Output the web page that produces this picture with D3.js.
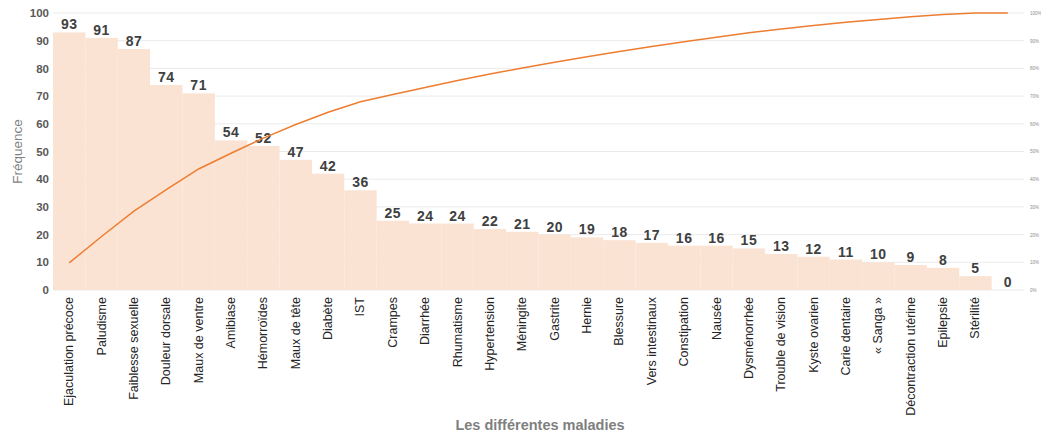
<!DOCTYPE html>
<html>
<head>
<meta charset="utf-8">
<script src="https://cdn.jsdelivr.net/npm/d3@7"></script>
<style>
  html, body { margin: 0; padding: 0; background: #fff; }
  svg { display: block; font-family: "Liberation Sans", Arial, sans-serif; }
</style>
</head>
<body>
<svg id="chart" width="1041" height="436"></svg>
<script>
// Diseases (the last bar, value 0, has no label on the axis)
const categories = [
  "Ejaculation précoce", "Paludisme", "Faiblesse sexuelle", "Douleur dorsale",
  "Maux de ventre", "Amibiase", "Hémorroïdes", "Maux de tête", "Diabète", "IST",
  "Crampes", "Diarrhée", "Rhumatisme", "Hypertension", "Méningite", "Gastrite",
  "Hernie", "Blessure", "Vers intestinaux", "Constipation", "Nausée",
  "Dysménorrhée", "Trouble de vision", "Kyste ovarien", "Carie dentaire",
  "« Sanga »", "Décontraction utérine", "Epilepsie", "Stérilité", ""
];
const frequencies = [93, 91, 87, 74, 71, 54, 52, 47, 42, 36, 25, 24, 24, 22, 21,
  20, 19, 18, 17, 16, 16, 15, 13, 12, 11, 10, 9, 8, 5, 0];
const leftTicks = [0, 10, 20, 30, 40, 50, 60, 70, 80, 90, 100];
const rightTicks = [0, 10, 20, 30, 40, 50, 60, 70, 80, 90, 100];

const svg = d3.select("#chart");
const margin = { left: 53, right: 1024, top: 13, bottom: 290 };

const keys = categories.map((c, i) => i);
const x = d3.scaleBand().domain(keys).range([margin.left, margin.right]).padding(0);
const y = d3.scaleLinear().domain([0, 100]).range([margin.bottom, margin.top]);
const yPct = d3.scaleLinear().domain([0, 100]).range([margin.bottom, margin.top]);

// cumulative percentage for the Pareto line
const total = d3.sum(frequencies);
let running = 0;
const cumulative = frequencies.map(v => { running += v; return running / total * 100; });

// horizontal gridlines
svg.append("g")
  .selectAll("line")
  .data(leftTicks)
  .join("line")
  .attr("x1", margin.left).attr("x2", margin.right)
  .attr("y1", d => y(d)).attr("y2", d => y(d))
  .attr("stroke", "#ebebeb").attr("stroke-width", 1);

// bars
svg.append("g")
  .selectAll("rect")
  .data(frequencies)
  .join("rect")
  .attr("x", (d, i) => x(i))
  .attr("y", d => y(d))
  .attr("width", x.bandwidth())
  .attr("height", d => y(0) - y(d))
  .attr("fill", "#fbe3d3");

// value labels above the bars
svg.append("g")
  .selectAll("text")
  .data(frequencies)
  .join("text")
  .attr("x", (d, i) => x(i) + x.bandwidth() / 2)
  .attr("y", d => y(d) - 3)
  .attr("text-anchor", "middle")
  .attr("font-size", 14)
  .attr("font-weight", "bold")
  .attr("letter-spacing", 0.5)
  .attr("fill", "#404040")
  .text(d => d);

// cumulative line
const line = d3.line()
  .x((d, i) => x(i) + x.bandwidth() / 2)
  .y(d => yPct(d));
svg.append("path")
  .datum(cumulative)
  .attr("d", line)
  .attr("fill", "none")
  .attr("stroke", "#ed7d31")
  .attr("stroke-width", 1.5);

// left axis
const yAxis = d3.axisLeft(y).tickValues(leftTicks).tickSize(0).tickPadding(0);
const gy = svg.append("g").attr("transform", `translate(${margin.left - 4},0)`).call(yAxis);
gy.select(".domain").remove();
gy.selectAll("text")
  .attr("font-size", 11.5).attr("font-weight", "bold").attr("fill", "#595959")
  .attr("font-family", "Liberation Sans, Arial, sans-serif");

// right axis (percent)
const yRight = d3.axisRight(yPct).tickValues(rightTicks).tickSize(0).tickPadding(0)
  .tickFormat(d => d + "%");
const gr = svg.append("g").attr("transform", `translate(${margin.right + 6},0)`).call(yRight);
gr.select(".domain").remove();
gr.selectAll("text")
  .attr("font-size", 4.5).attr("fill", "#8c8c8c")
  .attr("font-family", "Liberation Sans, Arial, sans-serif");

// bottom axis with rotated category names
const xAxis = d3.axisBottom(x).tickSize(0).tickPadding(0).tickFormat(i => categories[i]);
const gx = svg.append("g").attr("transform", `translate(0,${margin.bottom})`).call(xAxis);
gx.select(".domain").remove();
gx.selectAll("text")
  .attr("font-size", 12.5).attr("fill", "#262626")
  .attr("font-family", "Liberation Sans, Arial, sans-serif")
  .attr("text-anchor", "end")
  .attr("dy", null)
  .attr("dominant-baseline", "central")
  .attr("transform", "translate(0,7) rotate(-90)")
  .attr("y", 0).attr("x", 0);

// axis titles
svg.append("text")
  .attr("transform", `translate(22,${(margin.top + margin.bottom) / 2}) rotate(-90)`)
  .attr("text-anchor", "middle")
  .attr("font-size", 13.5).attr("fill", "#7f7f7f")
  .text("Fréquence");

svg.append("text")
  .attr("x", 540).attr("y", 430)
  .attr("text-anchor", "middle")
  .attr("font-size", 14.5).attr("font-weight", "bold").attr("fill", "#7f7f7f")
  .text("Les différentes maladies");
</script>
</body>
</html>
